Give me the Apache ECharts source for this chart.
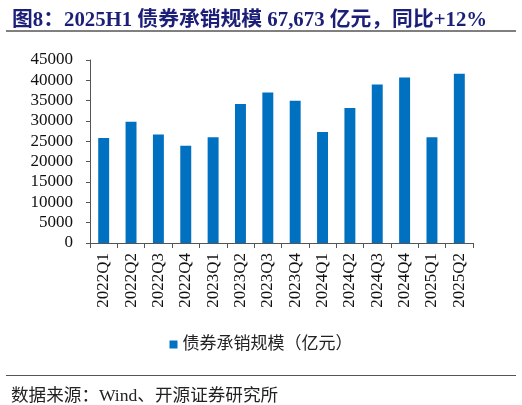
<!DOCTYPE html>
<html lang="zh">
<head>
  <meta charset="UTF-8">
  <title>债券承销规模</title>
  <script src="https://cdn.jsdelivr.net/npm/echarts@6/dist/echarts.min.js"></script>
  <style>
    html, body { margin: 0; padding: 0; background: #fff; }
  </style>
</head>
<body>
  <div id="chart" style="width:522px;height:405px;"></div>

  <script>
    // 季度
    var quarters = ['2022Q1', '2022Q2', '2022Q3', '2022Q4', '2023Q1', '2023Q2', '2023Q3',
      '2023Q4', '2024Q1', '2024Q2', '2024Q3', '2024Q4', '2025Q1', '2025Q2'];
    // 债券承销规模（亿元）
    var underwriting = [25800, 29800, 26700, 23900, 26000, 34200, 37000,
      35000, 27300, 33200, 39000, 40700, 26000, 41600];
    var yTicks = [0, 5000, 10000, 15000, 20000, 25000, 30000, 35000, 40000, 45000];

    var serif = '"Liberation Serif", "Noto Sans CJK SC", serif';
    var myChart = echarts.init(document.getElementById('chart'));

    var options = {
      animation: false,
      title: [
        {
          text: '图8：2025H1 债券承销规模 67,673 亿元，同比+12%',
          left: 7,
          top: 5,
          textStyle: {color: '#1c1f78', fontSize: 20.8, fontWeight: 'bold', fontFamily: serif}
        },
        {
          text: '数据来源：Wind、开源证券研究所',
          left: 6,
          top: 383,
          textStyle: {color: '#222', fontSize: 17.6, fontWeight: 'normal', fontFamily: serif}
        }
      ],
      graphic: [
        {type: 'line', shape: {x1: 6, y1: 31, x2: 516, y2: 31}, style: {stroke: '#000', lineWidth: 1}},
        {type: 'line', shape: {x1: 6, y1: 375.5, x2: 516, y2: 375.5}, style: {stroke: '#555', lineWidth: 1}}
      ],
      legend: {
        data: ['债券承销规模（亿元）'],
        top: 331,
        left: 'center',
        icon: 'rect',
        itemWidth: 8,
        itemHeight: 8,
        itemGap: 4,
        textStyle: {color: '#222', fontSize: 17, fontFamily: serif}
      },
      grid: {left: 90, right: 49, top: 60, bottom: 162},
      xAxis: {
        type: 'category',
        data: quarters,
        axisLine: {lineStyle: {color: '#555'}},
        axisTick: {show: true, alignWithLabel: false, length: 5, lineStyle: {color: '#555'}},
        axisLabel: {rotate: 90, interval: 0, margin: 10, color: '#111', fontSize: 17, fontFamily: serif}
      },
      yAxis: {
        type: 'value',
        min: yTicks[0],
        max: yTicks[yTicks.length - 1],
        interval: 5000,
        splitLine: {show: false},
        axisLine: {show: true, lineStyle: {color: '#555'}},
        axisTick: {show: true, length: 4, lineStyle: {color: '#555'}},
        axisLabel: {
          color: '#111', fontSize: 17, margin: 17, fontFamily: serif,
          formatter: function (v) { return String(v); }
        }
      },
      series: [
        {
          name: '债券承销规模（亿元）',
          type: 'bar',
          data: underwriting,
          barWidth: '40%',
          itemStyle: {color: '#0070c0'}
        }
      ]
    };

    myChart.setOption(options);
  </script>
</body>
</html>
